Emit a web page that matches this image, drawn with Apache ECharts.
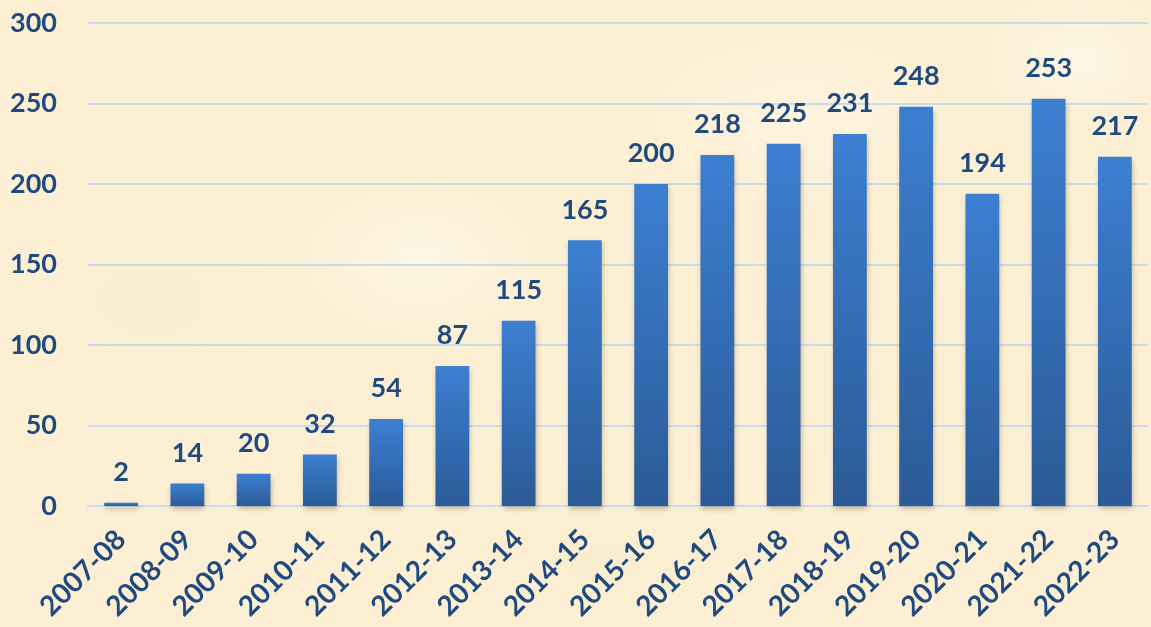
<!DOCTYPE html>
<html><head><meta charset="utf-8">
<script src="https://cdn.jsdelivr.net/npm/echarts@6/dist/echarts.min.js"></script>
<style>
html,body{margin:0;padding:0;}
body{width:1151px;height:627px;overflow:hidden;
background-color:#fcefd4;
background-image:
radial-gradient(ellipse 120px 80px at 420px 260px, rgba(255,250,235,0.7), rgba(255,250,235,0)),
radial-gradient(ellipse 160px 90px at 800px 120px, rgba(255,248,230,0.6), rgba(255,248,230,0)),
radial-gradient(ellipse 140px 100px at 150px 300px, rgba(248,232,198,0.4), rgba(248,232,198,0)),
radial-gradient(ellipse 200px 120px at 980px 400px, rgba(250,236,205,0.5), rgba(250,236,205,0)),
radial-gradient(ellipse 180px 90px at 600px 560px, rgba(248,234,200,0.4), rgba(248,234,200,0)),
radial-gradient(ellipse 100px 70px at 1080px 60px, rgba(255,252,240,0.6), rgba(255,252,240,0));}
#c{width:1151px;height:627px;}
</style></head>
<body><div id="c"></div>
<script>
const categories = ['2007-08','2008-09','2009-10','2010-11','2011-12','2012-13','2013-14','2014-15','2015-16','2016-17','2017-18','2018-19','2019-20','2020-21','2021-22','2022-23'];
const values = [2,14,20,32,54,87,115,165,200,218,225,231,248,194,253,217];
const yTicks = {min:0, max:300, interval:50};

const navy = '#1f4a7f';
const font = 'Lato';
const chart = echarts.init(document.getElementById('c'), null, {renderer:'canvas'});
chart.setOption({
  backgroundColor: 'transparent',
  animation: false,
  grid: {left:88, right:3, top:23, bottom:121, containLabel:false},
  xAxis: {
    type:'category', data: categories,
    axisLine:{show:true, lineStyle:{color:'#c8daee', width:2}},
    axisTick:{show:false},
    axisLabel:{rotate:45, margin:29, color:navy, fontFamily:font, fontWeight:'bold', fontSize:28, interval:0}
  },
  yAxis: {
    type:'value', min:yTicks.min, max:yTicks.max, interval:yTicks.interval,
    axisLine:{show:false}, axisTick:{show:false},
    splitLine:{lineStyle:{color:'#c8daee', width:2}},
    axisLabel:{margin:31, color:navy, fontFamily:font, fontWeight:'bold', fontSize:27}
  },
  series: [{
    type:'bar', data: values, barWidth:'51%',
    itemStyle:{
      color: new echarts.graphic.LinearGradient(0,0,0,1,[{offset:0,color:'#3c7fd1'},{offset:1,color:'#2b5b97'}]),
      shadowColor:'rgba(90,70,30,0.35)', shadowBlur:5, shadowOffsetX:1, shadowOffsetY:3
    },
    label:{show:true, position:'top', distance:17, color:navy, fontFamily:font, fontWeight:'bold', fontSize:27}
  }]
});
</script></body></html>
